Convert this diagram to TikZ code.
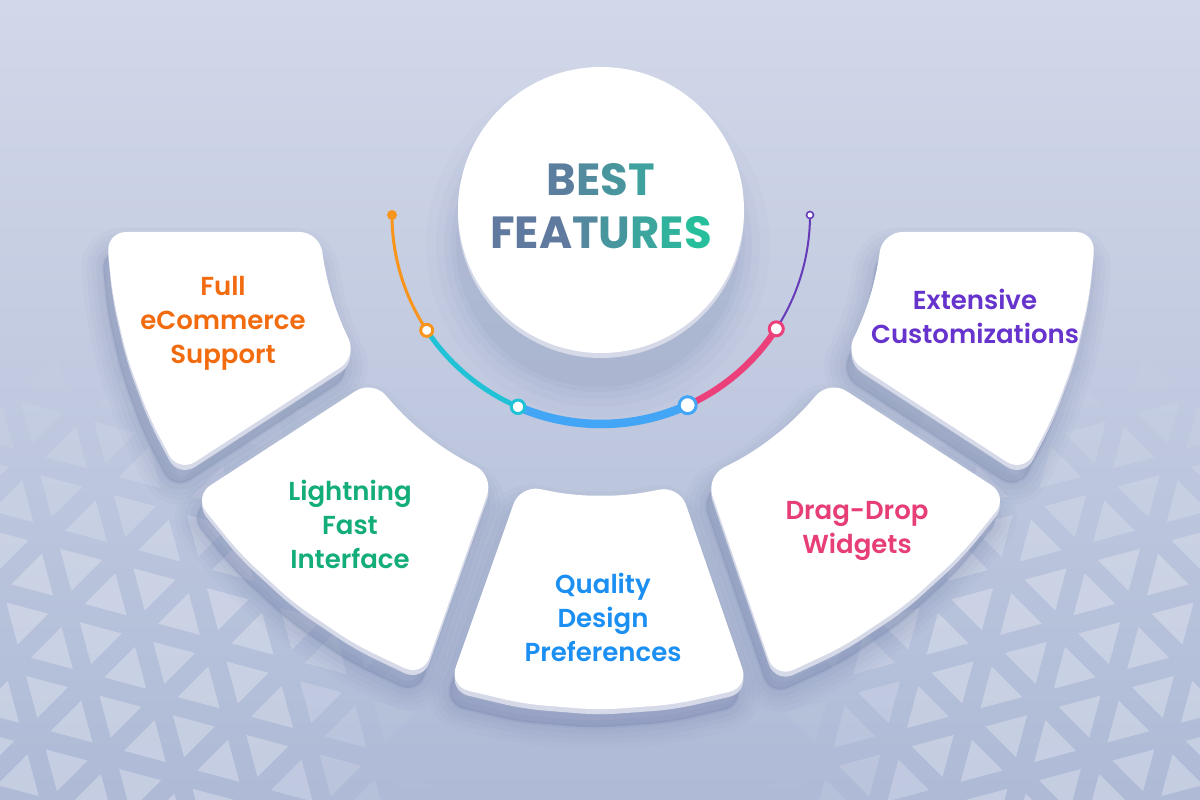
\documentclass[tikz,border=0pt]{standalone}
\usepackage{fontspec}
\setmainfont{Poppins}
\newfontfamily\semifont{Poppins SemiBold}
\newfontfamily\titlefont{Poppins Bold}
\usetikzlibrary{calc}

\definecolor{bgtop}{HTML}{D2D8E9}
\definecolor{bgbot}{HTML}{AEBAD6}
\definecolor{rim}{HTML}{D5D9E8}
\definecolor{shd}{HTML}{5B6A9C}
\definecolor{tslate}{HTML}{5F7A9E}
\definecolor{tgreen}{HTML}{26BF9C}
\definecolor{txtorange}{HTML}{F26B0F}
\definecolor{txtgreen}{HTML}{13AD78}
\definecolor{txtblue}{HTML}{1B8FF2}
\definecolor{txtpink}{HTML}{E63E75}
\definecolor{txtpurple}{HTML}{6633CC}
\definecolor{arcorange}{HTML}{F7951D}
\definecolor{arccyan}{HTML}{22C2D6}
\definecolor{arcblue}{HTML}{42A5F5}
\definecolor{arcpink}{HTML}{EC407A}
\definecolor{arcpurple}{HTML}{673AB7}

% annular sector (centre at origin) with edges offset from the dividing rays
% #1 start angle, #2 end angle, #3 offset at start, #4 offset at end
\newcommand\petalpath[4]{%
  ({#1+asin(#3/495)}:495)
  \foreach \t in {1,2,3,4}{ -- ({#1+asin(#3/495)+(#2-asin(#4/495)-#1-asin(#3/495))*\t/4}:495) }
  -- ({#2-asin(#4/282)}:282)
  \foreach \t in {1,2,3}{ -- ({#2-asin(#4/282)-(#2-asin(#4/282)-#1-asin(#3/282))*\t/3}:282) }
  -- cycle}

% title letter with a colour taken from the slate-to-green ramp
\newcommand\gl[2]{\textcolor{tgreen!#1!tslate}{#2}}

\tikzset{
  petalshadow/.style={fill=shd, draw=shd, line join=round, rounded corners=20},
  petalrim/.style={fill=rim, rounded corners=20},
  petalface/.style={fill=white, rounded corners=20},
  petallabel/.style={font=\semifont\fontsize{26}{34}\selectfont, align=center, inner sep=0},
  ring/.style={circle, fill=white, inner sep=0, line width=3},
}

\begin{document}
\begin{tikzpicture}[x=1pt,y=1pt]
\useasboundingbox (0,0) rectangle (1200,-800);

% backdrop
\shade[top color=bgtop, bottom color=bgbot] (0,0) rectangle (1200,-800);

% triangle lattice, mirrored left and right, fading towards the top and centre
\begin{scope}
\clip (0,0) rectangle (1200,-800);
\foreach \side in {1,-1}{
  \begin{scope}[shift={({600-600*\side},0)}, xscale=\side]
  \foreach \i in {-3,...,10}{
    \foreach \j in {-4,...,8}{
      \pgfmathsetmacro\px{600+\i*73.41+\j*19.67}
      \pgfmathsetmacro\py{-820+\i*19.67+\j*73.41}
      \pgfmathsetmacro\opu{0.28*min(1,max(0,(-(\py)-31.03-360)/230))*min(1,max(0,(abs(\px+31.03-600)-180)/160))}
      \pgfmathsetmacro\opd{0.28*min(1,max(0,(-(\py)-62.06-360)/230))*min(1,max(0,(abs(\px+62.06-600)-180)/160))}
      \ifdim\opu pt>0.004pt
        \fill[white, opacity=\opu, shift={(\px+31.03,\py+31.03)}]
          (-17.69,-17.69) -- (24.16,-6.47) -- (-6.47,24.16) -- cycle;
      \fi
      \ifdim\opd pt>0.004pt
        \fill[white, opacity=\opd, shift={(\px+62.06,\py+62.06)}]
          (6.47,-24.16) -- (17.69,17.69) -- (-24.16,6.47) -- cycle;
      \fi
    }
  }
  \end{scope}
}
\end{scope}

\coordinate (C) at (601,-215);

% feature petals: soft shadow, rim, face
\begin{scope}[shift={(C)}]
  \foreach \w/\o in {44/0.03,34/0.035,24/0.04,14/0.05,4/0.06}{
    \foreach \pa/\pb/\pc/\pd in {180/213/17/14, 213/250.5/14/14, 250.5/289/14/14, 289/327/14/14, 327/360/14/17}{
      \path[petalshadow, line width=\w, opacity=\o, shift={(-5,-18)}] \petalpath{\pa}{\pb}{\pc}{\pd};
    }
  }
  \foreach \pa/\pb/\pc/\pd in {180/213/17/14, 213/250.5/14/14, 250.5/289/14/14, 289/327/14/14, 327/360/14/17}{
    \path[petalrim, shift={(0,-5)}] \petalpath{\pa}{\pb}{\pc}{\pd};
    \path[petalface] \petalpath{\pa}{\pb}{\pc}{\pd};
  }
\end{scope}

% central disc
\foreach \r/\o in {172/0.025,162/0.035,154/0.045,147/0.055,142/0.06}{
  \fill[shd, opacity=\o] (598,-245) circle[radius=\r];
}
\fill[rim] (601,-215) circle[radius=143];
\node[circle, fill=white, minimum size=286, inner sep=0] (hub) at (601,-210) {};
\node[font=\titlefont\fontsize{45}{53}\selectfont, align=center, inner sep=0] (title) at (601,-206)
  {\gl{6}{B}\gl{23}{E}\gl{39}{S}\gl{56}{T}\\
   \gl{0}{F}\gl{0}{E}\gl{0}{A}\gl{20}{T}\gl{41}{U}\gl{62}{R}\gl{81}{E}\gl{99}{S}};

% progress arc
\coordinate (k0) at ($(C)+(180:209)$);
\coordinate (k1) at ($(C)+(213.5:209)$);
\coordinate (k2) at ($(C)+(246.6:209)$);
\coordinate (k3) at ($(C)+(294.5:209)$);
\coordinate (k4) at ($(C)+(327:209)$);
\coordinate (k5) at ($(C)+(360:209)$);
\draw[arcorange, line width=3] (k0) arc[start angle=180, end angle=213.5, radius=209];
\draw[arccyan, line width=5] (k1) arc[start angle=213.5, end angle=246.6, radius=209];
\draw[arcblue, line width=8.5] (k2) arc[start angle=246.6, end angle=294.5, radius=209];
\draw[arcpink, line width=6.5] (k3) arc[start angle=294.5, end angle=327, radius=209];
\draw[arcpurple, line width=2] (k4) arc[start angle=327, end angle=360, radius=209];
\node[circle, fill=arcorange, inner sep=0, minimum size=10] (e0) at (k0) {};
\node[ring, draw=arcorange, minimum size=12] (e1) at (k1) {};
\node[ring, draw=arccyan, minimum size=13.5] (e2) at (k2) {};
\node[ring, draw=arcblue, minimum size=17] (e3) at (k3) {};
\node[ring, draw=arcpink, minimum size=14] (e4) at (k4) {};
\node[ring, draw=arcpurple, line width=1.6, minimum size=7] (e5) at (k5) {};

% labels
\node[petallabel, text=txtorange] (l1) at (223,-323) {Full\\eCommerce\\Support};
\node[petallabel, text=txtgreen] (l2) at (350,-524) {Lightning\\Fast\\Interface};
\node[petallabel, text=txtblue] (l3) at (603,-617) {Quality\\Design\\Preferences};
\node[petallabel, text=txtpink] (l4) at (857,-531) {Drag-Drop\\Widgets};
\node[petallabel, text=txtpurple] (l5) at (975,-316) {Extensive\\Customizations};
\end{tikzpicture}
\end{document}
